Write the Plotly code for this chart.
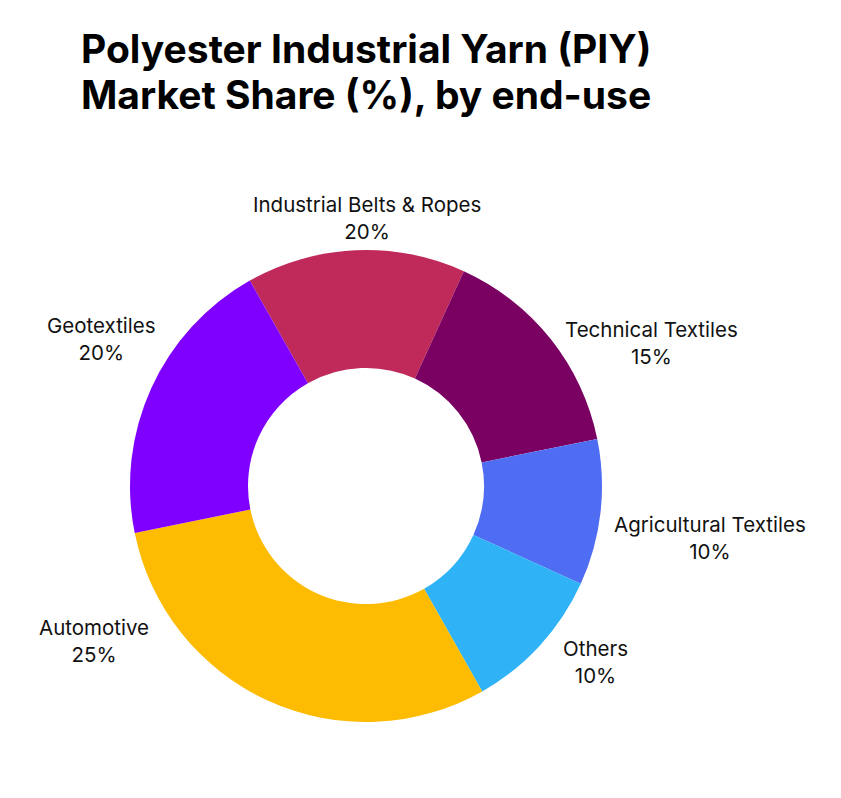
import plotly.graph_objects as go

# Data
categories = ["Industrial Belts & Ropes", "Technical Textiles", "Agricultural Textiles",
              "Others", "Automotive", "Geotextiles"]
slice_values = [15, 15, 10, 10, 30, 20]
label_pct = ["20%", "15%", "10%", "10%", "25%", "20%"]
colors = ["#C02A5A", "#7A0062", "#4F6DF3", "#2FB3F6", "#FDBB02", "#8000FF"]
title_lines = ["Polyester Industrial Yarn (PIY)", "Market Share (%), by end-use"]

W, H = 841, 798
OFF = 8  # page body margin offset
cx, cy, R = 366 - OFF, 486 - OFF, 236

# label anchor positions (pixels, layout only)
label_pos = [(367, 218), (651, 343), (710, 538), (595, 662), (94, 641), (101, 339)]
title_pos = [(366, 49), (366, 94)]

fig = go.Figure()
fig.add_trace(go.Pie(
    labels=categories,
    values=slice_values,
    hole=0.5,
    sort=False,
    direction="clockwise",
    rotation=-29.5,
    marker=dict(colors=colors, line=dict(width=0)),
    textinfo="none",
    hoverinfo="label+percent",
    showlegend=False,
    domain=dict(x=[(cx - R) / W, (cx + R) / W],
                y=[(H - cy - R) / H, (H - cy + R) / H]),
))

annotations = []
for cat, pct, (px, py) in zip(categories, label_pct, label_pos):
    annotations.append(dict(
        x=(px - OFF) / W, y=(H - py + OFF) / H, xref="paper", yref="paper",
        text=f"{cat}<br>{pct}", showarrow=False, align="center",
        xanchor="center", yanchor="middle",
        font=dict(family="Inter", size=20.5, color="#111111"),
    ))
for line, (px, py) in zip(title_lines, title_pos):
    annotations.append(dict(
        x=(px - OFF) / W, y=(H - py + OFF) / H, xref="paper", yref="paper",
        text=f"<b>{line}</b>", showarrow=False, align="center",
        xanchor="center", yanchor="middle",
        font=dict(family="Inter", size=39, color="#000000"),
    ))

fig.update_layout(
    width=W, height=H,
    margin=dict(l=0, r=0, t=0, b=0),
    paper_bgcolor="white", plot_bgcolor="white",
    annotations=annotations,
)

fig.write_html("out.html")
